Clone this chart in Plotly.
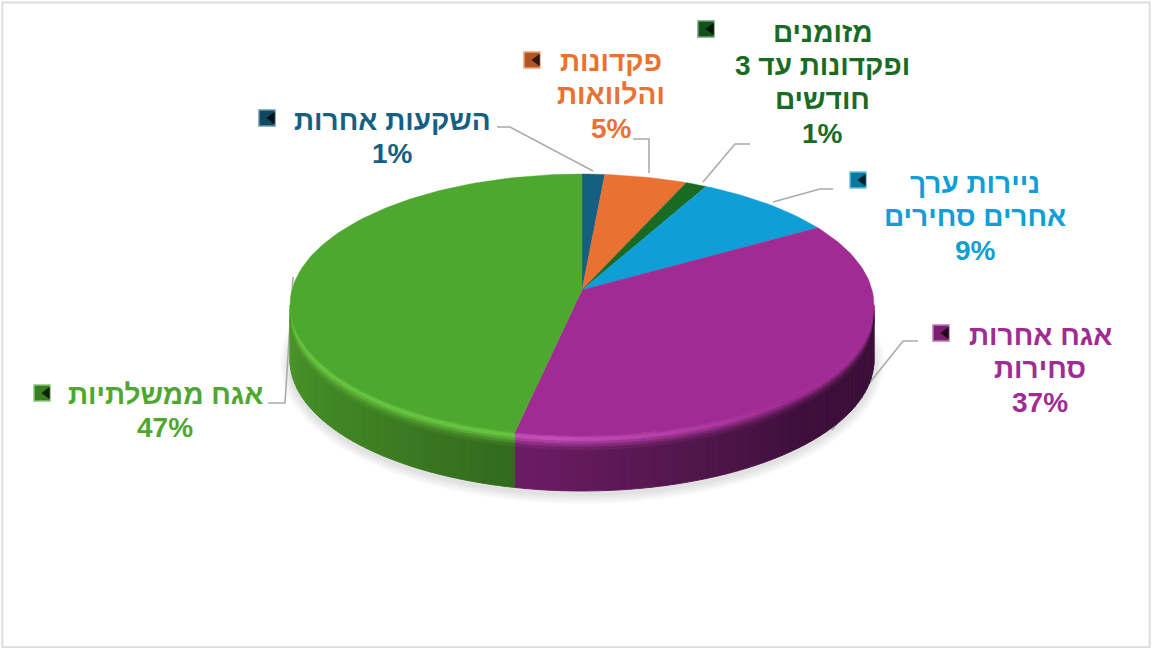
import math
import plotly.graph_objects as go

# ---- data -------------------------------------------------------------
categories = ["השקעות אחרות", "פקדונות<br>והלוואות", "מזומנים<br>ופקדונות עד 3<br>חודשים",
              "ניירות ערך<br>אחרים סחירים", "אגח אחרות<br>סחירות", "אגח ממשלתיות"]
values = [1.4, 5.1, 1.3, 8.7, 36.8, 46.7]
colors = ["#156082", "#E97132", "#196B24", "#0F9ED5", "#A02B93", "#4EA72E"]

# ---- layout of labels (pixels of the 1152x648 frame) --------------------
label_xy = [(392, 120), (611, 61), (822, 32), (975, 183), (1040, 335), (165, 394)]
key_xy = [(267, 118), (532, 60), (706, 29), (858, 180), (941, 333), (42, 393)]
LINE_PITCH = 33.7
leaders = [
    [(497, 127), (510, 127), (593, 171)],
    [(633, 139), (649, 139), (649, 173)],
    [(750, 144), (735, 144), (703, 182)],
    [(833, 189), (820, 189), (773, 202)],
    [(918, 341), (903, 341), (832, 430)],
    [(268, 403), (285, 403), (293, 277)],
]

CX, CY, RX, RY, DEPTH = 582.0, 305.0, 292.0, 131.0, 55.0
V0 = (CY - 290.0) / RY  # apex sits above the ellipse centre (perspective)


def project(deg):
    """Angle on the pie (clockwise from top) -> pixel, with perspective."""
    t = math.radians(deg)
    u, v = math.sin(t), math.cos(t)
    d = 1 + v * V0
    return CX + RX * u * math.sqrt(1 - V0 * V0) / d, CY - RY * (v + V0) / d


def rgb(h):
    return tuple(int(h[i:i + 2], 16) for i in (1, 3, 5))


def mix(a, b, f):
    f = max(0.0, min(1.0, f))
    return "#%02x%02x%02x" % tuple(round(a[i] + (b[i] - a[i]) * f) for i in range(3))


fig = go.Figure()


def poly(xs, ys, fill, line=None, width=1.2):
    fig.add_trace(go.Scatter(x=xs, y=ys, mode="lines", fill="toself", fillcolor=fill,
                             line=dict(color=line or fill, width=width),
                             hoverinfo="skip", showlegend=False))


# shadow under the pie
for k in (10, 8, 6, 4, 2):
    xs, ys = [], []
    for i in range(121):
        a = 2 * math.pi * i / 120
        xs.append(CX + (RX + k) * math.sin(a))
        ys.append(CY + DEPTH + 3 + (RY + k) * math.cos(a))
    poly(xs, ys, "rgba(0,0,0,0.025)", "rgba(0,0,0,0)", 0)

# leader lines
for pts in leaders:
    fig.add_trace(go.Scatter(x=[p[0] for p in pts], y=[p[1] for p in pts], mode="lines",
                             line=dict(color="#ABABAB", width=1.6),
                             hoverinfo="skip", showlegend=False))

# slice angle limits
edges = [0.0]
for val in values:
    edges.append(edges[-1] + val / sum(values) * 360)

# wall: (angle, wall colour) stops per slice, highlight strength by angle
wall_stops = {
    4: [(97, "#3a0e38"), (135, "#3d0f3a"), (165, "#55174f"), (194, "#6e1c66")],
    5: [(191, "#33691d"), (225, "#3f8224"), (263, "#4a962a")],
}
hi_colors = {4: "#c44bb6", 5: "#66c43f"}


def wall_color(idx, deg):
    st = wall_stops[idx]
    for (a0, c0), (a1, c1) in zip(st, st[1:]):
        if deg <= a1:
            return mix(rgb(c0), rgb(c1), (deg - a0) / (a1 - a0))
    return st[-1][1]


def hi_strength(idx, deg):
    if idx == 5:
        return 0.95
    return max(0.0, min(1.0, (deg - 140) / 45))


WALL_A, WALL_B = 96.6, 263.4
BANDS = [0.0, 0.03, 0.10, 0.15, 0.20, 0.26, 1.0]
for idx in (4, 5):
    a0, a1 = max(edges[idx], WALL_A), min(edges[idx + 1], WALL_B)
    n = max(8, int((a1 - a0) / 2.0))
    face = rgb(colors[idx])
    for b in range(len(BANDS) - 1):
        for i in range(n):
            s0 = a0 + (a1 - a0) * i / n
            s1 = a0 + (a1 - a0) * (i + 1) / n
            mid = (s0 + s1) / 2
            wc = rgb(wall_color(idx, mid))
            hs = hi_strength(idx, mid)
            hic = rgb(mix(face, rgb(hi_colors[idx]), hs))
            band_cols = [mix(face, hic, .5), mix(hic, hic, 0), mix(hic, wc, .3),
                         mix(hic, wc, .6), mix(hic, wc, .85), mix(wc, wc, 0)]
            (x0, y0), (x1, y1) = project(s0), project(s1)
            d0, d1 = BANDS[b] * DEPTH, BANDS[b + 1] * DEPTH
            poly([x0, x1, x1, x0, x0], [y0 + d0, y1 + d0, y1 + d1, y0 + d1, y0 + d0],
                 band_cols[b], width=0.9)

# top face
apex = project(0)[0], CY - RY * V0
for idx, col in enumerate(colors):
    a0, a1 = edges[idx], edges[idx + 1]
    n = max(4, int((a1 - a0) / 1.5))
    pts = [project(a0 + (a1 - a0) * i / n) for i in range(n + 1)]
    poly([apex[0]] + [p[0] for p in pts] + [apex[0]],
         [apex[1]] + [p[1] for p in pts] + [apex[1]], col, width=0.4)

# legend keys on the labels
for (kx, ky), col in zip(key_xy, colors):
    base = rgb(col)
    fig.add_trace(go.Scatter(x=[kx], y=[ky], mode="markers", hoverinfo="skip", showlegend=False,
                             marker=dict(symbol="square", size=16, color=mix(base, (0, 0, 0), .25),
                                         line=dict(color=mix(base, (255, 255, 255), .35), width=1.5))))
    fig.add_trace(go.Scatter(x=[kx + 5], y=[ky], mode="markers", hoverinfo="skip", showlegend=False,
                             marker=dict(symbol="triangle-left", size=11,
                                         color=mix(base, (0, 0, 0), .8), line=dict(width=0))))

# labels: one annotation per text line to control the line pitch
annotations = []
for (lx, ly), cat, val, col in zip(label_xy, categories, values, colors):
    lines = cat.split("<br>") + [f"{round(val)}%"]
    for i, line in enumerate(lines):
        annotations.append(dict(x=lx, y=ly + i * LINE_PITCH, xref="x", yref="y", showarrow=False,
                                xanchor="center", yanchor="middle", text=line,
                                font=dict(family="Liberation Sans", size=28, color=col, weight=700)))

fig.update_layout(
    width=1152, height=648, margin=dict(l=0, r=0, t=0, b=0),
    paper_bgcolor="white", plot_bgcolor="white", showlegend=False,
    xaxis=dict(range=[0, 1152], visible=False, fixedrange=True),
    yaxis=dict(range=[648, 0], visible=False, fixedrange=True),
    annotations=annotations,
    shapes=[dict(type="rect", xref="paper", yref="paper", x0=0.002, x1=0.998, y0=0.001, y1=0.996,
                 line=dict(color="#DDDDDD", width=2), layer="below")],
)
fig.write_html("out.html", config={"displayModeBar": False},
               post_script="document.body.style.margin='0';")
